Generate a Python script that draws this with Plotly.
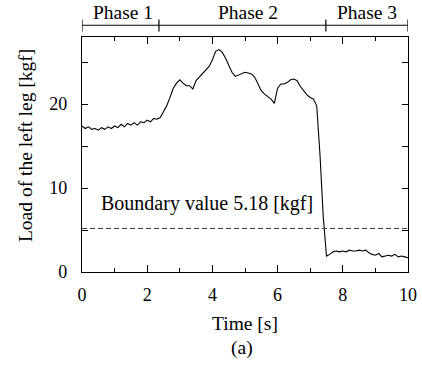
import plotly.graph_objects as go

# Left-leg load record, sampled every 0.1 s
time_s = [round(i * 0.1, 1) for i in range(101)]
load_kgf = [
    17.4, 17.1, 17.3, 17.0, 17.1, 16.9, 17.2, 17.0, 17.3, 17.1,
    17.4, 17.2, 17.6, 17.3, 17.7, 17.5, 17.8, 17.5, 17.9, 17.8,
    18.1, 17.9, 18.3, 18.2, 18.4, 19.1, 19.8, 20.8, 21.9, 22.5,
    22.9, 22.5, 22.2, 22.2, 21.8, 22.8, 23.2, 23.6, 24.0, 24.5,
    25.3, 26.3, 26.5, 26.2, 25.5, 24.6, 23.8, 23.3, 23.5, 23.7,
    23.8, 23.7, 23.6, 23.2, 22.4, 21.6, 21.2, 20.9, 20.6, 20.1,
    21.9, 22.4, 22.4, 22.6, 22.9, 23.0, 22.8, 22.1, 21.6, 21.1,
    20.8, 20.6, 19.8, 14.0, 6.6, 1.9, 2.1, 2.4, 2.5, 2.4,
    2.5, 2.4, 2.6, 2.5, 2.5, 2.6, 2.5, 2.6, 2.3, 2.1,
    2.0, 2.2, 1.8, 1.9, 2.0, 1.9, 2.1, 1.8, 1.9, 1.8,
    1.7,
]

boundary_value = 5.18
phase_names = ["Phase 1", "Phase 2", "Phase 3"]
phase_bounds = [0, 2.36, 7.48, 10]

y_tick_vals = [0, 5, 10, 15, 20, 25]
y_tick_text = ["0", "", "10", "", "20", ""]
x_tick_vals = [0, 2, 4, 6, 8, 10]

SERIF = "Liberation Serif, Times New Roman, serif"

fig = go.Figure()
fig.add_trace(go.Scatter(
    x=time_s, y=load_kgf, mode="lines",
    line=dict(color="black", width=1.1), showlegend=False,
))
fig.add_trace(go.Scatter(
    x=[0, 10], y=[boundary_value, boundary_value], mode="lines",
    line=dict(color="#444444", width=1, dash="5px,3px"), showlegend=False,
))

fig.add_annotation(
    x=0.52, y=8.2, xref="x", yref="y", xanchor="left", yanchor="middle",
    text=f"Boundary value {boundary_value} [kgf]", showarrow=False,
    font=dict(family=SERIF, size=20, color="black"),
)

# Phase bar above the plot
bar_y, tick_top, tick_bot = 1.05, 1.075, 1.023
fig.add_shape(type="line", xref="x", yref="paper",
              x0=phase_bounds[0], x1=phase_bounds[-1], y0=bar_y, y1=bar_y,
              line=dict(color="black", width=1))
for b in phase_bounds:
    fig.add_shape(type="line", xref="x", yref="paper",
                  x0=b, x1=b, y0=tick_bot, y1=tick_top,
                  line=dict(color="black", width=1.2))
label_x = [1.25, 5.1, 8.74]
for name, lx in zip(phase_names, label_x):
    fig.add_annotation(x=lx, y=1.105, xref="x", yref="paper",
                       text=name, showarrow=False, yanchor="middle",
                       font=dict(family=SERIF, size=19.5, color="black"))

fig.add_annotation(x=0.5, y=-0.218, xref="paper", yref="paper",
                   text="Time [s]", showarrow=False, yanchor="middle",
                   font=dict(family=SERIF, size=19.5, color="black"))
fig.add_annotation(x=0.49, y=-0.323, xref="paper", yref="paper",
                   text="(a)", showarrow=False, yanchor="middle",
                   font=dict(family=SERIF, size=19.5, color="black"))
fig.add_annotation(x=-0.175, y=0.54, xref="paper", yref="paper",
                   text="Load of the left leg [kgf]", showarrow=False,
                   textangle=-90, xanchor="center", yanchor="middle",
                   font=dict(family=SERIF, size=19.5, color="black"))

axis_common = dict(
    showline=True, linecolor="black", linewidth=1.2, mirror="ticks",
    ticks="inside", tickcolor="black", showgrid=False, zeroline=False,
    automargin=False,
    tickfont=dict(family=SERIF, size=18, color="black"),
)
fig.update_xaxes(range=[0, 10], tickvals=x_tick_vals, ticklen=7, tickwidth=1,
                 minor=dict(dtick=1, ticks="inside", ticklen=4, tickcolor="black"),
                 ticklabelstandoff=6, **axis_common)
fig.update_yaxes(range=[0, 28], tickvals=y_tick_vals, ticktext=y_tick_text,
                 ticklen=6, tickwidth=1, ticklabelstandoff=10, **axis_common)

fig.update_layout(
    width=422, height=366,
    margin=dict(l=82, r=14, t=37, b=94, autoexpand=False),
    plot_bgcolor="white", paper_bgcolor="white",
    font=dict(family=SERIF, color="black"),
)

fig.write_html("out.html")
